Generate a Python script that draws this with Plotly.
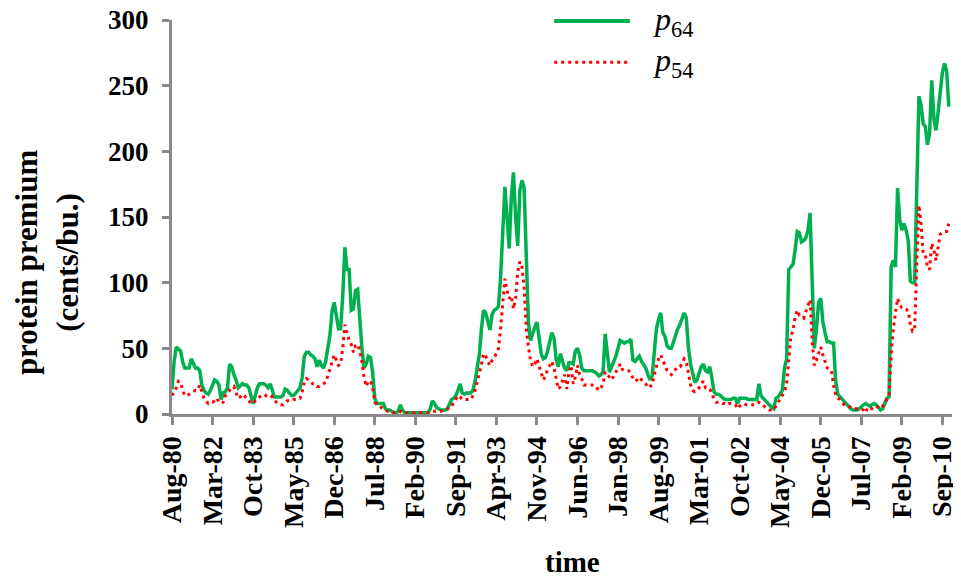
import pandas as pd
import plotly.graph_objects as go

# Monthly observations, Aug-80 .. Dec-10
MONTHS = list(pd.date_range("1980-08-01", periods=365, freq="MS").strftime("%b-%y"))

P64 = [
    19, 40, 51, 49, 48, 40, 35, 35, 35, 42,
    39, 35, 35, 33, 22, 18, 16, 15, 18, 22,
    26, 25, 22, 11, 16, 17, 20, 38, 36, 30,
    26, 20, 22, 23, 22, 22, 20, 14, 8, 14,
    20, 23, 23, 23, 22, 20, 23, 18, 13, 13,
    13, 13, 14, 19, 18, 16, 14, 14, 16, 19,
    20, 28, 44, 47, 47, 45, 44, 42, 36, 41,
    37, 35, 40, 50, 60, 78, 85, 75, 65, 65,
    90, 127, 110, 110, 79, 80, 94, 95, 69, 50,
    35, 38, 44, 43, 32, 12, 8, 8, 8, 8,
    4, 3, 3, 2, 1, 1, 2, 7, 3, 1,
    1, 1, 1, 1, 1, 1, 1, 1, 1, 1,
    1,
    4, 10, 8, 5, 4, 3, 3, 3, 4, 8,
    11, 12, 14, 18, 23, 16, 15, 16, 16, 16,
    18, 25, 35, 45, 65, 79, 77, 70, 64, 76,
    79, 80, 82, 105, 135, 173, 150, 126, 165, 184,
    150, 128, 170, 178, 172, 117, 70, 56, 62, 66,
    70, 55, 46, 42, 43, 48, 56, 62, 58, 42,
    36, 46, 40, 35, 33, 39, 39, 38, 48, 50,
    45, 35, 33, 33, 33, 33, 33, 32, 31, 29,
    30, 32, 61, 46, 32, 36, 40, 44, 50, 56,
    55, 54, 55, 55, 57, 41, 40, 42, 44, 40,
    38, 35, 30, 26, 29, 45, 65, 72, 77, 62,
    59, 52, 50, 50, 55, 62, 65, 68, 72, 77,
    73, 50, 38, 32, 24, 26, 32, 36, 38, 33,
    32, 36, 27, 17, 15, 15, 14, 12, 11, 11,
    11, 11, 12, 12, 8, 12, 12, 12, 12, 11,
    11, 11, 11, 11, 23, 14, 12, 10, 8, 7,
    5, 4, 12, 13, 15, 18, 35, 42, 110, 112,
    114, 125, 139, 138, 131, 132, 134, 140, 153, 100,
    50, 65, 85, 88, 70, 62, 55, 55, 54, 54,
    25, 15, 13, 12, 10, 8, 6, 4, 3, 3,
    3, 4, 6, 7, 8, 7, 6, 7, 8, 7,
    5, 3, 4, 9, 12, 13, 112, 117, 112, 172,
    148, 140, 145, 140, 132, 101, 100, 100, 175, 242,
    235, 221, 219, 205, 214, 254, 225, 216, 230, 245,
    260, 267, 261, 234,
]

P54 = [
    14, 17, 20, 25, 24, 18, 14, 14, 15, 16,
    17, 18, 18, 22, 17, 12, 10, 8, 9, 9,
    10, 12, 9, 8, 9, 14, 16, 18, 20, 21,
    16, 12, 13, 15, 14, 11, 10, 8, 8, 10,
    12, 13, 14, 15, 14, 13, 14, 13, 10, 9,
    8, 7, 7, 8, 10, 10, 10, 11, 11, 12,
    12, 17, 24, 27, 26, 24, 23, 23, 21, 21,
    22, 23, 24, 29, 35, 40, 45, 41, 37, 38,
    50, 68, 62, 56, 53, 47, 52, 53, 48, 40,
    28, 21, 25, 25, 20, 9, 7, 6, 5, 4,
    3, 2, 2, 2, 1, 1, 1, 2, 1, 1,
    1, 1, 1, 1, 1, 1, 1, 1, 1, 1,
    1,
    1, 2, 2, 2, 2, 2, 3, 3, 4, 4,
    6, 9, 12, 14, 13, 11, 11, 11, 11, 11,
    14, 18, 24, 30, 38, 46, 44, 40, 37, 41,
    43, 46, 50, 66, 82, 103, 94, 88, 90, 80,
    88, 108, 116, 112, 97, 66, 51, 41, 36, 38,
    42, 36, 30, 26, 29, 34, 37, 40, 35, 28,
    19, 21, 26, 30, 19, 32, 37, 23, 28, 37,
    30, 27, 22, 22, 22, 22, 22, 22, 20, 18,
    20, 23, 32, 30, 28, 26, 29, 32, 35, 38,
    34, 33, 33, 33, 30, 27, 25, 26, 28, 26,
    25, 23, 20, 21, 22, 30, 37, 42, 45, 41,
    36, 33, 31, 30, 33, 34, 36, 36, 38, 42,
    40, 32, 22, 18, 17, 18, 20, 23, 25, 20,
    20, 19, 16, 11, 9, 9, 9, 8, 8, 7,
    8, 8, 8, 7, 4, 6, 7, 8, 7, 7,
    7, 7, 7, 8, 9, 8, 7, 5, 4, 3,
    3, 3, 6, 9, 12, 15, 17, 23, 42, 59,
    64, 74, 79, 75, 74, 73, 78, 83, 87, 55,
    37, 41, 46, 51, 45, 40, 35, 34, 33, 22,
    15, 12, 11, 9, 7, 6, 6, 5, 4, 4,
    4, 4, 4, 3, 1, 5, 5, 4, 5, 6,
    5, 4, 6, 8, 11, 13, 45, 65, 77, 88,
    83, 81, 81, 80, 78, 68, 63, 64, 115, 159,
    145, 122, 121, 112, 110, 130, 125, 117, 127, 137,
    138, 139, 139, 145,
]

TICK_LABELS = ["Aug-80", "Mar-82", "Oct-83", "May-85", "Dec-86", "Jul-88", "Feb-90",
               "Sep-91", "Apr-93", "Nov-94", "Jun-96", "Jan-98", "Aug-99", "Mar-01",
               "Oct-02", "May-04", "Dec-05", "Jul-07", "Feb-09", "Sep-10"]
Y_TICKS = [0, 50, 100, 150, 200, 250, 300]
SERIES_NAMES = ["<i>p</i><sub>64</sub>", "<i>p</i><sub>54</sub>"]

SERIF = "Liberation Serif, Times New Roman, serif"
AXIS_GRAY = "#898989"
GREEN = "#00B050"
RED = "#FF0000"
RED_DASH = "3px,4px"

fig = go.Figure()
fig.add_trace(go.Scatter(
    x=MONTHS, y=P64, mode="lines", name=SERIES_NAMES[0], showlegend=False,
    line=dict(color=GREEN, width=3.5),
))
fig.add_trace(go.Scatter(
    x=MONTHS, y=P54, mode="lines", name=SERIES_NAMES[1], showlegend=False,
    line=dict(color=RED, width=3, dash=RED_DASH),
))

# legend drawn as key lines + labels near the top of the plot
legend_shapes = [
    dict(type="line", xref="paper", yref="paper", x0=0.49, x1=0.587, y0=0.9975, y1=0.9975,
         line=dict(color=GREEN, width=4)),
    dict(type="line", xref="paper", yref="paper", x0=0.49, x1=0.587, y0=0.893, y1=0.893,
         line=dict(color=RED, width=3, dash=RED_DASH)),
]
legend_labels = [
    dict(text=SERIES_NAMES[0], xref="paper", yref="paper", x=0.614, y=0.996,
         xanchor="left", yanchor="middle", showarrow=False,
         font=dict(family=SERIF, size=32, color="black")),
    dict(text=SERIES_NAMES[1], xref="paper", yref="paper", x=0.614, y=0.893,
         xanchor="left", yanchor="middle", showarrow=False,
         font=dict(family=SERIF, size=32, color="black")),
]

fig.update_layout(
    width=953, height=572,
    margin=dict(l=164, r=9, t=12, b=166, autoexpand=False),
    paper_bgcolor="white", plot_bgcolor="white",
    font=dict(family=SERIF, color="black"),
    showlegend=False,
    xaxis=dict(
        type="category", range=[0, 365.5], automargin=False,
        tickmode="array", tickvals=TICK_LABELS, ticktext=TICK_LABELS,
        tickangle=-90, tickfont=dict(family=SERIF, size=28, weight="bold"),
        ticklabeloverflow="allow",
        showline=True, linecolor=AXIS_GRAY, linewidth=3,
        ticks="outside", ticklen=8, tickwidth=3, tickcolor=AXIS_GRAY,
        showgrid=False, zeroline=False,
    ),
    yaxis=dict(
        range=[0, 300], tickmode="array", tickvals=Y_TICKS, automargin=False,
        tickfont=dict(family=SERIF, size=27, weight="bold"),
        ticklabelstandoff=8, ticklabeloverflow="allow",
        showline=True, linecolor=AXIS_GRAY, linewidth=3,
        ticks="outside", ticklen=7, tickwidth=3, tickcolor=AXIS_GRAY,
        showgrid=False, zeroline=False,
    ),
    shapes=legend_shapes,
    annotations=[
        dict(text="<b>protein premium<br>(cents/bu.)</b>", textangle=-90,
             xref="paper", yref="paper", x=-0.16, y=0.386,
             xanchor="center", yanchor="middle", showarrow=False,
             font=dict(family=SERIF, size=31, color="black")),
        dict(text="<b>time</b>",
             xref="paper", yref="paper", x=0.513, y=-0.375,
             xanchor="center", yanchor="middle", showarrow=False,
             font=dict(family=SERIF, size=29, color="black")),
    ] + legend_labels,
)

fig.write_html("out.html")
